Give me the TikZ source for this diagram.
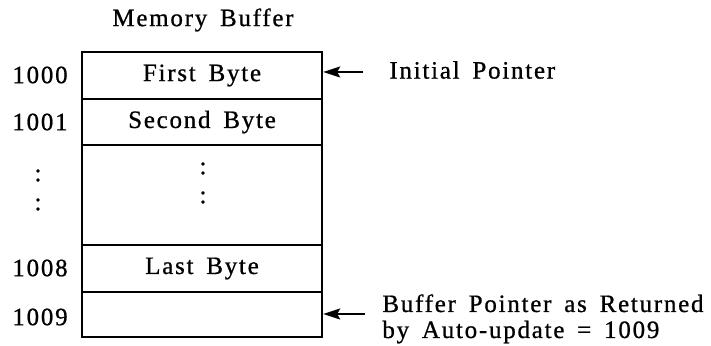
\documentclass[tikz,border=0pt]{standalone}
\usepackage{fontspec}
\setmainfont{Liberation Serif}[LetterSpace=7,WordSpace=1.6,FakeBold=0.8]
\usetikzlibrary{arrows.meta}
\begin{document}
\begin{tikzpicture}[x=0.5pt,y=-0.5pt,
  txt/.style={font=\fontsize{12.5}{13}\selectfont, inner sep=0pt},
  cell/.style={draw, line width=1.2pt, minimum width=120pt, inner sep=0pt, txt},
  ptr/.style={line width=0.8pt, -{Stealth[length=8.5pt,width=5.5pt,inset=1.5pt]}}]
\useasboundingbox (0,0) rectangle (711,346);
\node[txt] (title) at (203,20) {Memory Buffer};
\node[cell, minimum height=23.5pt] (r1) at (202,75.5) {First Byte};
\node[cell, minimum height=23pt] (r2) at (202,122) {Second Byte};
\node[cell, minimum height=50pt] (r3) at (202,195) {};
\node[cell, minimum height=23.5pt] (r4) at (202,268.5) {Last Byte};
\node[cell, minimum height=22.5pt] (r5) at (202,314.5) {};
\node[txt] (d1) at (203,168.5) {:};
\node[txt] (d2) at (203,197.5) {:};
\node[txt] (a1) at (40,75) {1000};
\node[txt] (a2) at (40,122) {1001};
\node[txt] (a3) at (38,175.5) {:};
\node[txt] (a4) at (38,204.5) {:};
\node[txt] (a8) at (40,268) {1008};
\node[txt] (a9) at (40,317) {1009};
\coordinate (p1) at (363,72);
\coordinate (p2) at (365,314);
\draw[ptr] (p1) -- (r1.east |- p1);
\draw[ptr] (p2) -- (r5.east |- p2);
\node[txt, anchor=mid west] (l1) at (389,74) {Initial Pointer};
\node[txt, anchor=base west] (l2) at (382,312) {Buffer Pointer as Returned};
\node[txt, anchor=base west] (l3) at (382,338) {by Auto-update = 1009};
\end{tikzpicture}
\end{document}
